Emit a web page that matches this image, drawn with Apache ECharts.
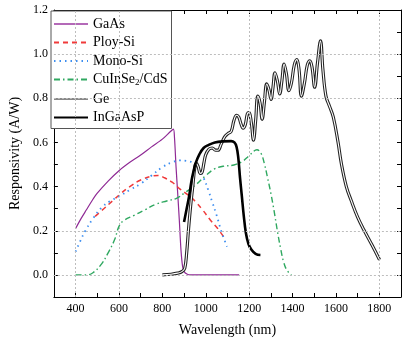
<!DOCTYPE html>
<html>
<head>
<meta charset="utf-8">
<script src="https://cdn.jsdelivr.net/npm/echarts@6/dist/echarts.min.js"></script>
<style>
  html, body { margin: 0; padding: 0; background: #fff; }
  #chart { width: 415px; height: 346px; }
</style>
</head>
<body>
<div id="chart"></div>
<script>
// data (wavelength in nm, responsivity in A/W)
const gaasX = [400, 425, 450, 475, 500, 550, 600, 650, 700, 750, 800, 840, 851, 856, 863, 870, 878, 886, 893, 900, 915, 930, 1000, 1154];
const gaasY = [0.21, 0.255, 0.295, 0.335, 0.37, 0.425, 0.472, 0.51, 0.543, 0.58, 0.615, 0.652, 0.66, 0.62, 0.49, 0.38, 0.25, 0.11, 0.04, 0.015, 0.003, 0, 0, 0];

const polyX = [490, 530, 570, 610, 650, 700, 750, 780, 810, 845, 880, 915, 950, 985, 1020, 1055, 1088];
const polyY = [0.265, 0.30, 0.335, 0.37, 0.40, 0.43, 0.447, 0.45, 0.44, 0.42, 0.39, 0.365, 0.335, 0.295, 0.25, 0.21, 0.165];

const monoX = [400, 420, 445, 480, 520, 560, 600, 650, 700, 750, 800, 850, 880, 910, 935, 967, 990, 1012, 1030, 1050, 1072, 1098];
const monoY = [0.105, 0.15, 0.20, 0.255, 0.305, 0.335, 0.355, 0.385, 0.413, 0.45, 0.488, 0.512, 0.519, 0.517, 0.51, 0.48, 0.44, 0.383, 0.33, 0.27, 0.197, 0.128];

const cisX = [400, 450, 480, 520, 550, 580, 600, 620, 670, 720, 770, 820, 865, 900, 950, 1000, 1040, 1080, 1130, 1170, 1200, 1236, 1255, 1270, 1285, 1300, 1315, 1330, 1345, 1360, 1375, 1395];
const cisY = [0, 0, 0.01, 0.05, 0.10, 0.16, 0.22, 0.245, 0.27, 0.295, 0.32, 0.335, 0.347, 0.37, 0.405, 0.45, 0.48, 0.492, 0.498, 0.515, 0.54, 0.567, 0.55, 0.505, 0.44, 0.37, 0.29, 0.20, 0.12, 0.055, 0.02, 0];

const geX = [800, 840, 870, 890, 903, 912, 920, 930, 940, 950, 957, 965, 975, 983, 992, 1000, 1015, 1030, 1045, 1057, 1070, 1087, 1102, 1117, 1130, 1142, 1152, 1162, 1172, 1182, 1192, 1200, 1210, 1220, 1230, 1240, 1250, 1260, 1270, 1281, 1291, 1301, 1310, 1319, 1330, 1341, 1351, 1361, 1372, 1383, 1395, 1408, 1420, 1430, 1441, 1455, 1468, 1480, 1490, 1502, 1515, 1529, 1540, 1554, 1570, 1588, 1610, 1625, 1648, 1670, 1700, 1730, 1767, 1801];
const geY = [0, 0.003, 0.008, 0.015, 0.03, 0.10, 0.20, 0.31, 0.40, 0.49, 0.505, 0.49, 0.46, 0.465, 0.51, 0.545, 0.57, 0.575, 0.565, 0.565, 0.59, 0.625, 0.64, 0.65, 0.70, 0.723, 0.715, 0.685, 0.665, 0.68, 0.73, 0.735, 0.69, 0.61, 0.70, 0.81, 0.78, 0.705, 0.78, 0.865, 0.84, 0.795, 0.85, 0.915, 0.88, 0.82, 0.88, 0.955, 0.91, 0.835, 0.87, 0.95, 0.975, 0.93, 0.81, 0.87, 0.95, 0.97, 0.94, 0.85, 0.96, 1.06, 0.93, 0.81, 0.765, 0.715, 0.60, 0.505, 0.40, 0.338, 0.262, 0.202, 0.134, 0.069];

const ingaX = [900, 912, 923, 935, 945, 953, 970, 990, 1012, 1042, 1080, 1117, 1132, 1142, 1150, 1158, 1166, 1175, 1185, 1197, 1210, 1230, 1252];
const ingaY = [0.24, 0.30, 0.355, 0.43, 0.475, 0.505, 0.545, 0.575, 0.588, 0.60, 0.605, 0.606, 0.60, 0.58, 0.53, 0.44, 0.36, 0.27, 0.19, 0.14, 0.115, 0.095, 0.09];

const xTickLabels = [400, 600, 800, 1000, 1200, 1400, 1600, 1800];
const gridX = [400, 600, 1200, 1800];
const gridY = [0, 0.2, 0.8, 1.0];

const pairs = (xs, ys) => xs.map((x, i) => [x, ys[i]]);
const serif = 'Liberation Serif';

const chart = echarts.init(document.getElementById('chart'));

const boxAxis = {
  axisLine: { show: true, onZero: false, lineStyle: { color: '#000', width: 1 } },
  axisTick: { show: true, inside: true, length: 4, lineStyle: { color: '#000' } },
  splitLine: { show: false }
};

chart.setOption({
  animation: false,
  grid: { left: 44, right: 14, top: 10, bottom: 49 },
  xAxis: [
    {
      type: 'value', min: 300, max: 1900, interval: 100, position: 'bottom',
      ...boxAxis,
      axisLabel: {
        margin: 6, fontFamily: serif, fontSize: 12, color: '#000',
        formatter: v => xTickLabels.includes(v) ? String(v) : ''
      },
      name: 'Wavelength (nm)', nameLocation: 'middle', nameGap: 26,
      nameTextStyle: { fontFamily: serif, fontSize: 14, color: '#000' }
    },
    {
      type: 'value', min: 300, max: 1900, interval: 100, position: 'top',
      ...boxAxis, axisLabel: { show: false }
    }
  ],
  yAxis: [
    {
      type: 'value', min: -0.1, max: 1.2, interval: 0.1, position: 'left',
      ...boxAxis,
      axisLabel: {
        margin: 6, fontFamily: serif, fontSize: 12, color: '#000',
        formatter: v => {
          const k = Math.round(v * 10);
          return (k >= 0 && k % 2 === 0) ? (k / 10).toFixed(1) : '';
        }
      },
      name: 'Responsivity (A/W)', nameLocation: 'middle', nameGap: 25,
      nameTextStyle: { fontFamily: serif, fontSize: 14, color: '#000' }
    },
    {
      type: 'value', min: -0.1, max: 1.2, interval: 0.1, position: 'right',
      ...boxAxis, axisLabel: { show: false }
    }
  ],
  legend: {
    orient: 'vertical', left: 51, top: 11,
    itemWidth: 34, itemHeight: 14, itemGap: 4.5,
    padding: [6, 4, 4, 2],
    backgroundColor: '#fff', borderColor: '#555', borderWidth: 1,
    itemStyle: { opacity: 0 },
    textStyle: {
      fontFamily: serif, fontSize: 14, color: '#000',
      rich: { sub: { fontFamily: serif, fontSize: 9, padding: [7, 0, 0, 0] } }
    },
    formatter: n => n === 'CuInSe2/CdS' ? 'CuInSe{sub|2}/CdS' : n,
    data: [
      { name: 'GaAs', lineStyle: { color: '#b469b8', width: 2 } },
      { name: 'Ploy-Si' },
      { name: 'Mono-Si' },
      { name: 'CuInSe2/CdS' },
      { name: 'Ge', lineStyle: { color: '#888', width: 2, type: 'solid' } },
      { name: 'InGaAsP' }
    ]
  },
  series: [
    {
      name: 'grid', type: 'line', data: [], silent: true, z: 1,
      markLine: {
        silent: true, symbol: 'none', label: { show: false },
        lineStyle: { color: '#bdbdbd', type: [2, 2], width: 1 },
        data: gridX.map(x => ({ xAxis: x })).concat(gridY.map(y => ({ yAxis: y })))
      }
    },
    {
      name: 'GaAs', type: 'line', symbol: 'none', smooth: 0.3,
      data: pairs(gaasX, gaasY),
      lineStyle: { color: '#8f2a95', width: 1.2 }, itemStyle: { color: '#8f2a95' }
    },
    {
      name: 'Ploy-Si', type: 'line', symbol: 'none', smooth: 0.4,
      data: pairs(polyX, polyY),
      lineStyle: { color: '#f03a3a', width: 1.5, type: [5, 4] }, itemStyle: { color: '#f03a3a' }
    },
    {
      name: 'Mono-Si', type: 'line', symbol: 'none', smooth: 0.4,
      data: pairs(monoX, monoY),
      lineStyle: { color: '#3d8ef0', width: 1.8, type: [1.5, 4] }, itemStyle: { color: '#3d8ef0' }
    },
    {
      name: 'CuInSe2/CdS', type: 'line', symbol: 'none', smooth: 0.4,
      data: pairs(cisX, cisY),
      lineStyle: { color: '#2fa860', width: 1.4, type: [6, 3, 1.5, 3] }, itemStyle: { color: '#2fa860' }
    },
    {
      name: 'Ge', type: 'line', symbol: 'none', smooth: 0.4,
      data: pairs(geX, geY),
      lineStyle: { color: '#222', width: 3.2 }, itemStyle: { color: '#888' }
    },
    {
      name: 'Ge inner', type: 'line', symbol: 'none', smooth: 0.4, silent: true,
      data: pairs(geX, geY),
      lineStyle: { color: '#fff', width: 1.1 }
    },
    {
      name: 'InGaAsP', type: 'line', symbol: 'none', smooth: 0.4,
      data: pairs(ingaX, ingaY),
      lineStyle: { color: '#000', width: 2.6 }, itemStyle: { color: '#000' }
    }
  ]
});
</script>
</body>
</html>
